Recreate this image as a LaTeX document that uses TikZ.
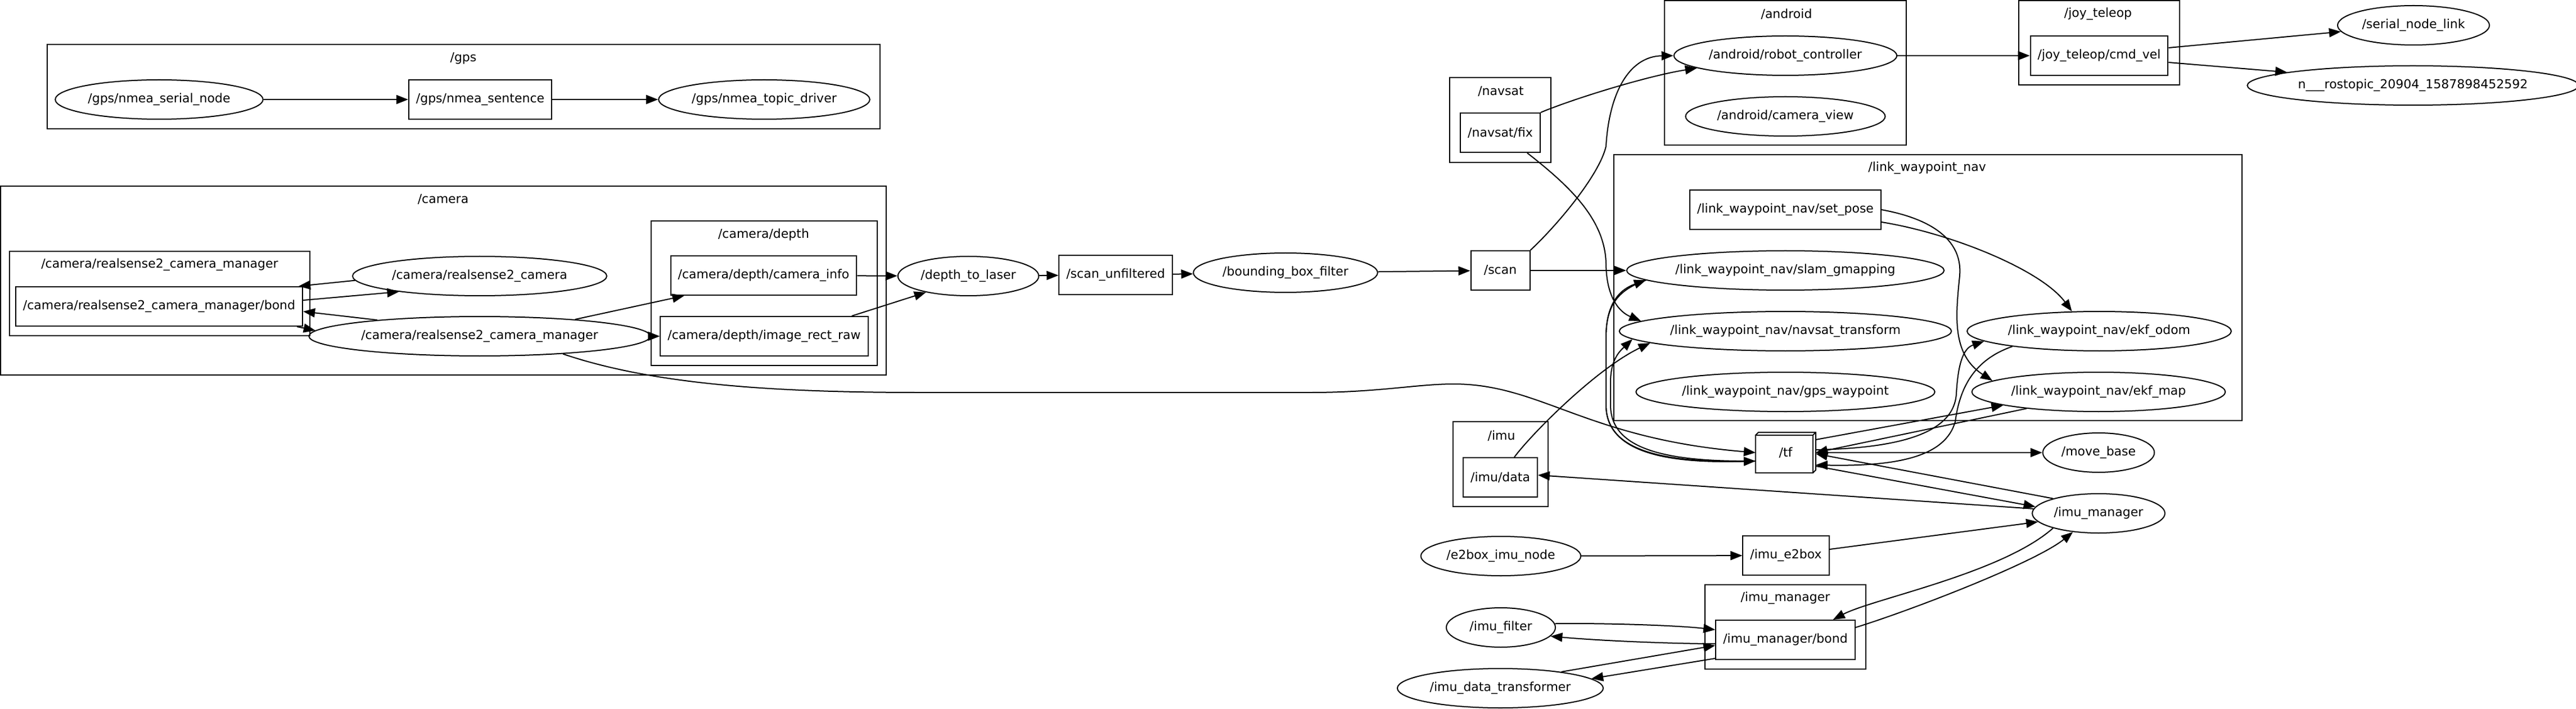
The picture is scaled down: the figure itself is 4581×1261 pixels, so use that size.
\documentclass[tikz,border=0pt]{standalone}
\usepackage{fontspec}
\setmainfont{DejaVu Sans}
\usetikzlibrary{shapes.geometric, arrows.meta}

\begin{document}
\begin{tikzpicture}[x=0.5pt, y=-0.5pt, line width=1pt, font=\fontsize{11pt}{13pt}\selectfont,
    >={Triangle[length=10.5pt, width=8pt]},
    topic/.style = {draw, rectangle, minimum width=52.5pt, minimum height=35pt, inner xsep=6.5pt},
    rosnode/.style = {draw, ellipse, minimum width=97pt, minimum height=35pt, inner xsep=2pt},
    title/.style = {inner sep=0pt}]
    \useasboundingbox (0,0) rectangle (4581,1261);

    \draw (84,79) rectangle (1565,229);
    \draw (1,331) rectangle (1576,667);
    \draw (17,447) rectangle (551,597);
    \draw (1158,393) rectangle (1560,650);
    \draw (2578,138) rectangle (2758,289);
    \draw (2960,1) rectangle (3390,258);
    \draw (3590,1) rectangle (3876,151);
    \draw (2870,275) rectangle (3987,748);
    \draw (2584,750) rectangle (2753,901);
    \draw (3032,1040) rectangle (3318,1190);
    \node[title] (c_gps) at (824,104) {/gps};
    \node[title] (c_camera) at (788,355) {/camera};
    \node[title] (c_rsmgr) at (284,471) {/camera/realsense2\_camera\_manager};
    \node[title] (c_depth) at (1358,417) {/camera/depth};
    \node[title] (c_navsat) at (2669,163) {/navsat};
    \node[title] (c_android) at (3177,25) {/android};
    \node[title] (c_joy) at (3731,25) {/joy\_teleop};
    \node[title] (c_lwn) at (3427,299) {/link\_waypoint\_nav};
    \node[title] (c_imu) at (2670,775) {/imu};
    \node[title] (c_imumgr) at (3175,1064) {/imu\_manager};

    \node[rosnode] (n_gpsserial) at (283,177) {/gps/nmea\_serial\_node};
    \node[topic] (t_gpssent) at (854,177) {/gps/nmea\_sentence};
    \node[rosnode] (n_gpsdriver) at (1359,177) {/gps/nmea\_topic\_driver};
    \node[topic] (t_bond) at (283,545) {/camera/realsense2\_camera\_manager/bond};
    \node[rosnode] (n_rscam) at (853,491) {/camera/realsense2\_camera};
    \node[rosnode] (n_rsmgr) at (853,598) {/camera/realsense2\_camera\_manager};
    \node[topic] (t_caminfo) at (1358,490) {/camera/depth/camera\_info};
    \node[topic] (t_imgraw) at (1359,598) {/camera/depth/image\_rect\_raw};
    \node[rosnode] (n_d2l) at (1722,491) {/depth\_to\_laser};
    \node[topic] (t_scanunf) at (1984,489) {/scan\_unfiltered};
    \node[rosnode] (n_bbf) at (2286,485) {/bounding\_box\_filter};
    \node[topic] (t_scan) at (2668,481) {/scan};
    \node[topic] (t_fix) at (2668,236) {/navsat/fix};
    \node[rosnode] (n_robotctl) at (3175,99) {/android/robot\_controller};
    \node[rosnode] (n_camview) at (3175,207) {/android/camera\_view};
    \node[topic] (t_cmdvel) at (3733,99) {/joy\_teleop/cmd\_vel};
    \node[rosnode] (n_serial) at (4292,45) {/serial\_node\_link};
    \node[rosnode] (n_rostopic) at (4291,152) {n\_\_\_rostopic\_20904\_1587898452592};
    \node[topic] (t_setpose) at (3175,373) {/link\_waypoint\_nav/set\_pose};
    \node[rosnode] (n_slam) at (3175,481) {/link\_waypoint\_nav/slam\_gmapping};
    \node[rosnode] (n_navtf) at (3175,589) {/link\_waypoint\_nav/navsat\_transform};
    \node[rosnode] (n_gpswp) at (3175,697) {/link\_waypoint\_nav/gps\_waypoint};
    \node[rosnode] (n_ekfodom) at (3733,589) {/link\_waypoint\_nav/ekf\_odom};
    \node[rosnode] (n_ekfmap) at (3732,697) {/link\_waypoint\_nav/ekf\_map};
    \node[topic] (t_imudata) at (2668,849) {/imu/data};
    \node[topic, draw=none] (t_tf) at (3175.5,805) {/tf};
    \node[rosnode] (n_movebase) at (3732,805) {/move\_base};
    \node[rosnode] (n_imumgr) at (3732,913) {/imu\_manager};
    \node[rosnode] (n_e2box) at (2669,989) {/e2box\_imu\_node};
    \node[topic] (t_e2box) at (3176,988) {/imu\_e2box};
    \node[topic] (t_imubond) at (3175,1138) {/imu\_manager/bond};
    \node[rosnode] (n_imufilter) at (2669,1116) {/imu\_filter};
    \node[rosnode] (n_imudt) at (2668,1224) {/imu\_data\_transformer};

    \draw (t_tf.south west) rectangle ([shift={(-2.5pt,-2.5pt)}]t_tf.north east);
    \draw ([yshift=-2.5pt]t_tf.north west) -- ([xshift=2.5pt]t_tf.north west) -- (t_tf.north east)
        -- ([yshift=2.5pt]t_tf.south east) -- ([xshift=-2.5pt]t_tf.south east);
    \draw ([shift={(-2.5pt,-2.5pt)}]t_tf.north east) -- (t_tf.north east);

    \draw[->] (n_gpsserial) -- (t_gpssent);
    \draw[->] (t_gpssent) -- (n_gpsdriver);
    \draw[->] (n_rscam.182) -- ([xshift=-4pt]t_bond.north east);
    \draw[->] ([yshift=5.5pt]t_bond.east) -- (n_rscam.191);
    \draw[->] (n_rsmgr.171) -- ([yshift=-4.5pt]t_bond.east);
    \draw[->] ([xshift=-5.5pt]t_bond.south east) -- (n_rsmgr.178);
    \draw[->] (n_rsmgr.10) -- ([xshift=12.5pt]t_caminfo.south west);
    \draw[->] (n_rsmgr) -- (t_imgraw);
    \draw[->] (n_rsmgr.348) .. controls (1150,680) and (1350,698) .. (1631,698) -- (2333,698)
        .. controls (2450,698) and (2520,683) .. (2585,683)
        .. controls (2740,683) and (2820,780) .. (t_tf.west);
    \draw[->] (t_caminfo) -- (n_d2l);
    \draw[->] ([xshift=-15pt]t_imgraw.north east) -- (n_d2l.201);
    \draw[->] (n_d2l) -- (t_scanunf);
    \draw[->] (t_scanunf) -- (n_bbf);
    \draw[->] (n_bbf) -- (t_scan);
    \draw[->] (t_scan) -- (n_slam);
    \draw[->] (t_scan.north east) .. controls (2770,400) and (2845,310) .. (2856,260)
        .. controls (2862,160) and (2900,100) .. (n_robotctl.west);
    \draw[->] (t_fix.north east) .. controls (2800,175) and (2930,135) .. (n_robotctl.188);
    \draw[->] ([xshift=-12pt]t_fix.south east) .. controls (2790,330) and (2855,390) .. (2856,470)
        .. controls (2857,530) and (2880,555) .. (n_navtf.176);
    \draw[->] (n_robotctl) -- (t_cmdvel);
    \draw[->] ([yshift=7pt]t_cmdvel.east) -- (n_serial.185);
    \draw[->] ([yshift=-6pt]t_cmdvel.east) -- (n_rostopic.174);
    \draw[->] ([yshift=-11pt]t_setpose.east) .. controls (3470,415) and (3630,480) .. (n_ekfodom.144);
    \draw[->] (t_setpose.east) .. controls (3440,390) and (3490,430) .. (3485,490)
        .. controls (3478,560) and (3470,630) .. (n_ekfmap.174);
    \draw[->] ([yshift=-6.5pt]t_tf.north east) -- (n_ekfmap.188);
    \draw[->] (n_ekfmap.193) -- (t_tf.east);
    \draw[->] ([yshift=2.5pt]t_tf.east) .. controls (3380,797) and (3475,770) .. (3479,700)
        .. controls (3482,650) and (3490,620) .. (n_ekfodom.185);
    \draw[->] (n_ekfodom.190) .. controls (3510,640) and (3485,690) .. (3477,750)
        .. controls (3460,810) and (3380,830) .. ([yshift=-11pt]t_tf.east);
    \draw[->] (t_tf) -- (n_movebase);
    \draw[->] (n_imumgr.162) -- ([yshift=-1pt]t_tf.east);
    \draw[->] ([yshift=-12pt]t_tf.east) -- (n_imumgr.174);
    \draw[->] ([yshift=-7.5pt]t_tf.west) .. controls (2950,825) and (2856,800) .. (2856,720) -- (2856,600)
        .. controls (2856,540) and (2880,515) .. (n_slam.184);
    \draw[->] (n_slam.184) .. controls (2880,515) and (2856,540) .. (2856,600) -- (2856,720)
        .. controls (2856,800) and (2950,825) .. ([yshift=-7.5pt]t_tf.west);
    \draw[->] ([yshift=-7.5pt]t_tf.west) .. controls (2950,822) and (2864,795) .. (2864,720) -- (2864,680)
        .. controls (2864,640) and (2880,625) .. (n_navtf.183);
    \draw[->] (n_imumgr.176) -- ([yshift=2pt]t_imudata.east);
    \draw[->] ([xshift=12.5pt]t_imudata.north) .. controls (2725,770) and (2840,655) .. (n_navtf.185);
    \draw[->] (n_e2box) -- (t_e2box);
    \draw[->] ([yshift=5.5pt]t_e2box.east) -- (n_imumgr.188);
    \draw[->] (n_imumgr.198) .. controls (3560,1020) and (3330,1065) .. ([xshift=-20pt]t_imubond.north east);
    \draw[->] ([yshift=11pt]t_imubond.east) .. controls (3400,1085) and (3620,1000) .. (n_imumgr.216);
    \draw[->] (n_imufilter.4) .. controls (2850,1108) and (2980,1112) .. ([yshift=9pt]t_imubond.west);
    \draw[->] ([yshift=-3.5pt]t_imubond.west) .. controls (2980,1145) and (2850,1140) .. (n_imufilter.350);
    \draw[->] (n_imudt.15) -- ([yshift=-5pt]t_imubond.west);
    \draw[->] ([yshift=-16.5pt]t_imubond.west) -- (n_imudt.6);
\end{tikzpicture}
\end{document}
